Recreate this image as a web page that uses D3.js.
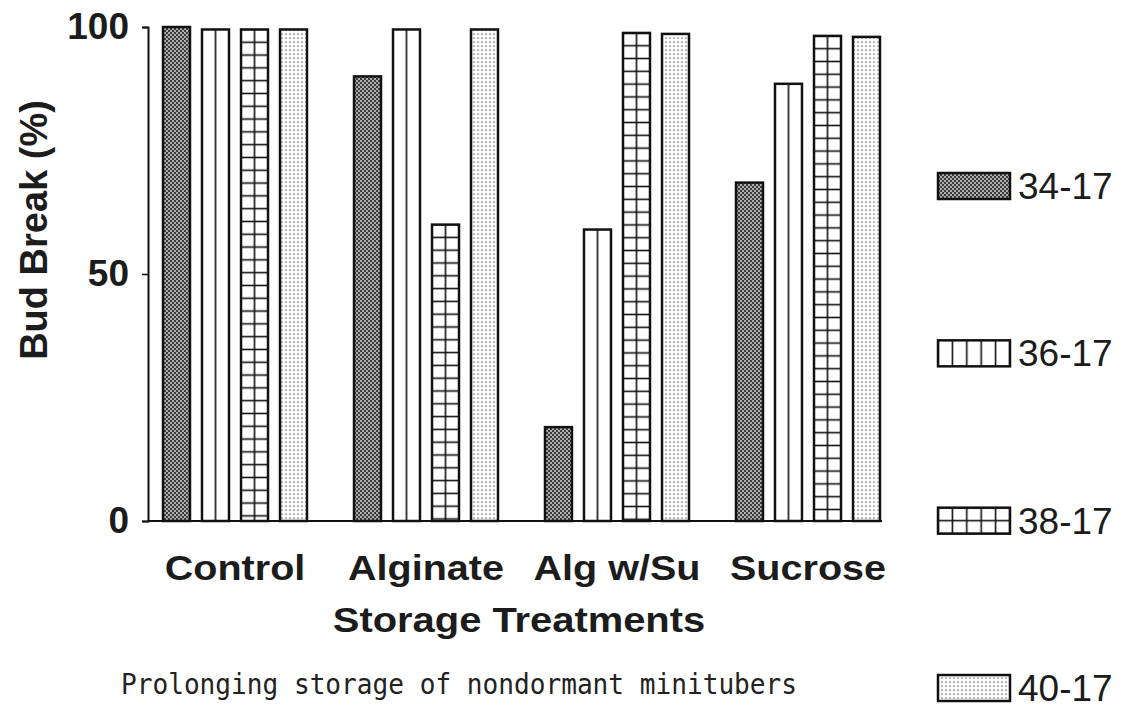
<!DOCTYPE html>
<html>
<head>
<meta charset="utf-8">
<script src="https://cdn.jsdelivr.net/npm/d3@7"></script>
<style>
  html, body { margin: 0; padding: 0; background: #fff; }
  svg { display: block; }
</style>
</head>
<body>
<svg id="chart" width="1126" height="713"></svg>
<script>
// ---- data ----
const categories = ["Control", "Alginate", "Alg w/Su", "Sucrose"];
const seriesNames = ["34-17", "36-17", "38-17", "40-17"];
const s3417 = [100, 90, 19, 68.5];
const s3617 = [99.5, 99.5, 59, 88.5];
const s3817 = [99.5, 60, 98.8, 98.2];
const s4017 = [99.5, 99.5, 98.6, 98];
const seriesValues = [s3417, s3617, s3817, s4017];
const yTicks = [0, 50, 100];
const yLabel = "Bud Break (%)";
const xLabel = "Storage Treatments";
const caption = "Prolonging storage of nondormant minitubers";

// ---- layout ----
const svg = d3.select("#chart");
const axisX = 148, axisY0 = 521, axisY1 = 27, axisRight = 882;
const ink = "#1c1c1c";
const boldFont = "'Liberation Sans', Arial, Helvetica, sans-serif";

const y = d3.scaleLinear().domain([0, 100]).range([axisY0, axisY1]);
const x0 = d3.scaleBand().domain(categories).range([163, 880]).paddingInner(0.246).paddingOuter(0);
const x1 = d3.scaleBand().domain(seriesNames).range([0, x0.bandwidth()]).paddingInner(0.308).paddingOuter(0);
const patternKind = d3.scaleOrdinal().domain(seriesNames).range(["dark", "vlines", "grid", "dots"]);
const legendY = d3.scalePoint().domain(seriesNames).range([186, 688]);

const defs = svg.append("defs");

// shared patterns
const pDark = defs.append("pattern").attr("id", "pat-dark")
  .attr("patternUnits", "userSpaceOnUse").attr("width", 4).attr("height", 4);
pDark.append("rect").attr("width", 4).attr("height", 4).attr("fill", "#3b3b3b");
pDark.append("circle").attr("cx", 1).attr("cy", 1).attr("r", 0.95).attr("fill", "#e0e0e0");
pDark.append("circle").attr("cx", 3).attr("cy", 3).attr("r", 0.95).attr("fill", "#e0e0e0");

const pDots = defs.append("pattern").attr("id", "pat-dots")
  .attr("patternUnits", "userSpaceOnUse").attr("width", 4).attr("height", 4);
pDots.append("rect").attr("width", 4).attr("height", 4).attr("fill", "#fbfbfb");
pDots.append("circle").attr("cx", 2).attr("cy", 2).attr("r", 0.85).attr("fill", "#777");

let patId = 0;
function makeLinePattern(kind, bx, by, bw, cells, rowH) {
  const id = "pat-" + (patId++);
  const tw = bw / cells;
  const th = kind === "grid" ? rowH : 20;
  const p = defs.append("pattern").attr("id", id)
    .attr("patternUnits", "userSpaceOnUse")
    .attr("x", bx - tw / 2).attr("y", by - th / 2)
    .attr("width", tw).attr("height", th);
  p.append("rect").attr("width", tw).attr("height", th).attr("fill", "#fff");
  p.append("line").attr("x1", tw / 2).attr("x2", tw / 2).attr("y1", 0).attr("y2", th)
    .attr("stroke", "#111").attr("stroke-width", 1.6);
  if (kind === "grid") {
    p.append("line").attr("x1", 0).attr("x2", tw).attr("y1", th / 2).attr("y2", th / 2)
      .attr("stroke", "#111").attr("stroke-width", 1.6);
  }
  return "url(#" + id + ")";
}
function fillFor(kind, bx, by, bw, cells, rowH) {
  if (kind === "dark") return "url(#pat-dark)";
  if (kind === "dots") return "url(#pat-dots)";
  return makeLinePattern(kind, bx, by, bw, cells, rowH);
}

// ---- bars ----
const barData = [];
categories.forEach((c, ci) => {
  seriesNames.forEach((s, si) => {
    barData.push({ cat: c, ser: s, val: seriesValues[si][ci] });
  });
});

svg.append("g").selectAll("rect")
  .data(barData)
  .join("rect")
  .attr("x", d => x0(d.cat) + x1(d.ser))
  .attr("y", d => y(d.val))
  .attr("width", x1.bandwidth())
  .attr("height", d => y(0) - y(d.val))
  .attr("fill", d => fillFor(patternKind(d.ser), x0(d.cat) + x1(d.ser), y(d.val), x1.bandwidth(), 2, 12.8))
  .attr("stroke", "#111")
  .attr("stroke-width", 2.5);

// ---- axes ----
const yAxis = d3.axisLeft(y).tickValues(yTicks).tickSize(6).tickPadding(13).tickFormat(d3.format("d"));
const gy = svg.append("g").attr("transform", `translate(${axisX},0)`).call(yAxis);
gy.select(".domain").attr("stroke", "#111").attr("stroke-width", 2);
gy.selectAll(".tick line").attr("stroke", "#111").attr("stroke-width", 1.6);
gy.selectAll(".tick text")
  .attr("fill", ink)
  .style("font-family", boldFont)
  .style("font-weight", "bold")
  .style("font-size", "37px");

// x axis baseline
svg.append("line")
  .attr("x1", axisX).attr("x2", axisRight)
  .attr("y1", y(0)).attr("y2", y(0))
  .attr("stroke", "#111").attr("stroke-width", 2.2);

// category labels
svg.append("g").selectAll("text")
  .data(categories)
  .join("text")
  .attr("transform", d => `translate(${x0(d) + x0.bandwidth() / 2},580) scale(1.13,1)`)
  .attr("text-anchor", "middle")
  .attr("fill", ink)
  .style("font-family", boldFont)
  .style("font-weight", "bold")
  .style("font-size", "35px")
  .text(d => d);

// x title
svg.append("text")
  .attr("transform", `translate(519,632) scale(1.14,1)`)
  .attr("text-anchor", "middle")
  .attr("fill", ink)
  .style("font-family", boldFont)
  .style("font-weight", "bold")
  .style("font-size", "35px")
  .text(xLabel);

// y title
svg.append("text")
  .attr("transform", `translate(47,230) rotate(-90)`)
  .attr("text-anchor", "middle")
  .attr("fill", ink)
  .style("font-family", boldFont)
  .style("font-weight", "bold")
  .style("font-size", "38px")
  .text(yLabel);

// caption
svg.append("text")
  .attr("x", 121).attr("y", 694)
  .attr("textLength", 676)
  .attr("lengthAdjust", "spacingAndGlyphs")
  .attr("fill", "#222")
  .style("font-family", "'DejaVu Sans Mono', 'Liberation Mono', monospace")
  .style("font-size", "29px")
  .text(caption);

// ---- legend ----
const swW = 72, swH = 26, swX = 938;
const lg = svg.append("g").selectAll("g")
  .data(seriesNames)
  .join("g");
lg.append("rect")
  .attr("x", swX)
  .attr("y", d => legendY(d) - swH / 2)
  .attr("width", swW)
  .attr("height", swH)
  .attr("fill", d => fillFor(patternKind(d), swX, legendY(d) - swH / 2, swW, 5, swH / 2))
  .attr("stroke", "#111")
  .attr("stroke-width", 2.5);
lg.append("text")
  .attr("x", 1018)
  .attr("y", d => legendY(d) + 13)
  .attr("fill", ink)
  .style("font-family", boldFont)
  .style("font-size", "37px")
  .text(d => d);
</script>
</body>
</html>
